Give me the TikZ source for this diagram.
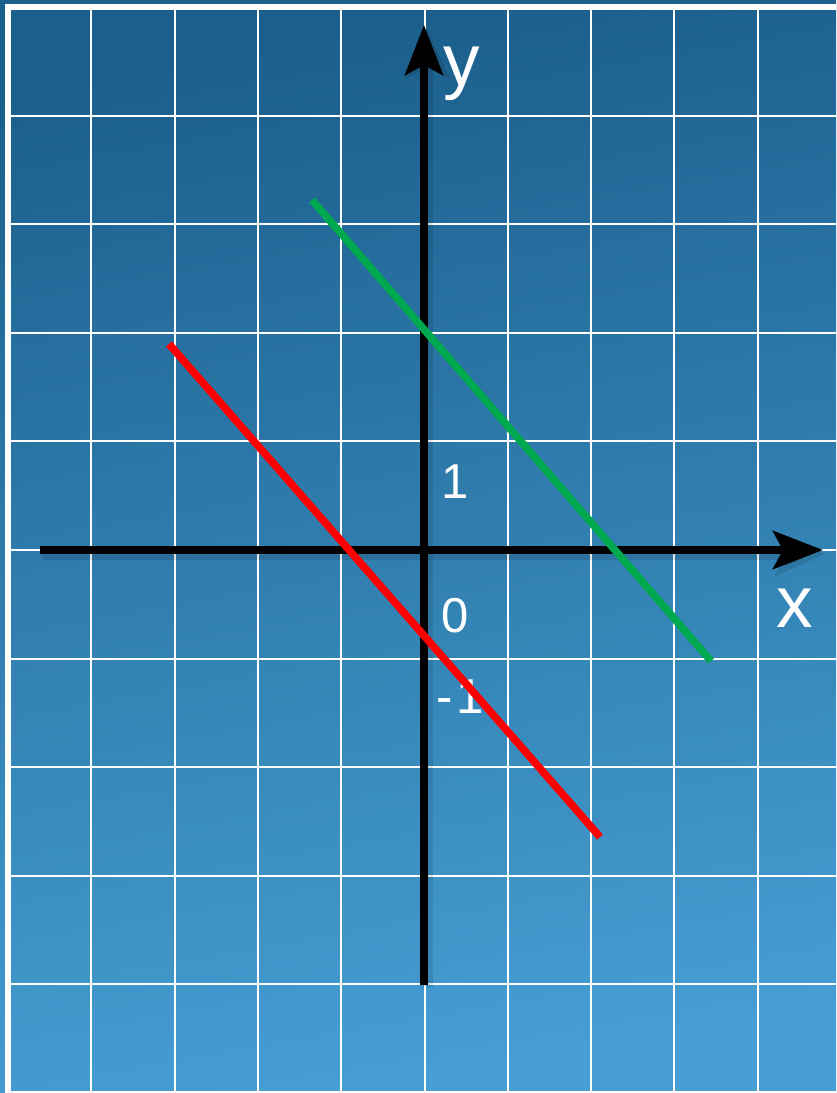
\documentclass[tikz,border=0pt]{standalone}
\usepackage{fontspec}
\setmainfont{Liberation Sans}
\usetikzlibrary{arrows.meta}
\definecolor{bgtop}{RGB}{27,95,140}
\definecolor{bgbot}{RGB}{70,158,211}
\definecolor{lgreen}{RGB}{0,168,80}
\definecolor{lred}{RGB}{255,0,0}
\tikzset{
  gridline/.style={white, line width=1pt},
  border/.style={white, line width=3pt},
  axis/.style={black, line width=3.6pt, -{Stealth[length=25pt,width=19pt,inset=5pt]}},
  axshadow/.style={black, opacity=0.1, line width=6pt, -{Stealth[length=25pt,width=22pt,inset=5pt]}},
  graphline/.style={line width=3.8pt},
  biglabel/.style={text=white, font=\fontsize{36.5pt}{40pt}\selectfont, inner sep=0pt, anchor=base},
  numlabel/.style={text=white, font=\fontsize{24.5pt}{28pt}\selectfont, inner sep=0pt, anchor=base},
}
\begin{document}
\begin{tikzpicture}[x=0.5pt, y=-0.5pt]
\useasboundingbox (0,0) rectangle (836,1093);
% background
\shade[top color=bgtop, bottom color=bgbot, shading angle=10] (0,0) rectangle (836,1093);
% grid
\foreach \k in {1,...,9} {
  \draw[gridline] ({8+83.3*\k},7) -- ({8+83.3*\k},1093);
}
\foreach \k in {1,...,9} {
  \draw[gridline] (8,{7+108.6*\k}) -- (836,{7+108.6*\k});
}
\draw[gridline] (8,1092) -- (836,1092);
\draw[border] (8,1093) -- (8,7) -- (836,7);
% labels
\node[biglabel] (ylab) at (462,85) {y};
\node[biglabel] (xlab) at (795,627) {x};
\node[numlabel] (one) at (455,498) {1};
\node[numlabel] (zero) at (455,632) {0};
\node[numlabel] (mone) at (460,713) {-\kern2pt1};
% axes coordinates
\coordinate (xs) at (40,550);
\coordinate (xe) at (823,550);
\coordinate (ys) at (424,985);
\coordinate (ye) at (424,25);
\coordinate (xss) at (42,554);
\coordinate (xes) at (825,554);
\coordinate (yss) at (427,987);
\coordinate (yes) at (427,28);
% shadows
\draw[axshadow] (xss) -- (xes);
\draw[axshadow] (yss) -- (yes);
% axes
\draw[axis] (xs) -- (xe);
\draw[axis] (ys) -- (ye);
% lines
\coordinate (g1) at (312,200);
\coordinate (g2) at (711,661);
\coordinate (r1) at (169,344);
\coordinate (r2) at (600,837);
\draw[graphline, lgreen] (g1) -- (g2);
\draw[graphline, lred] (r1) -- (r2);
\end{tikzpicture}
\end{document}
